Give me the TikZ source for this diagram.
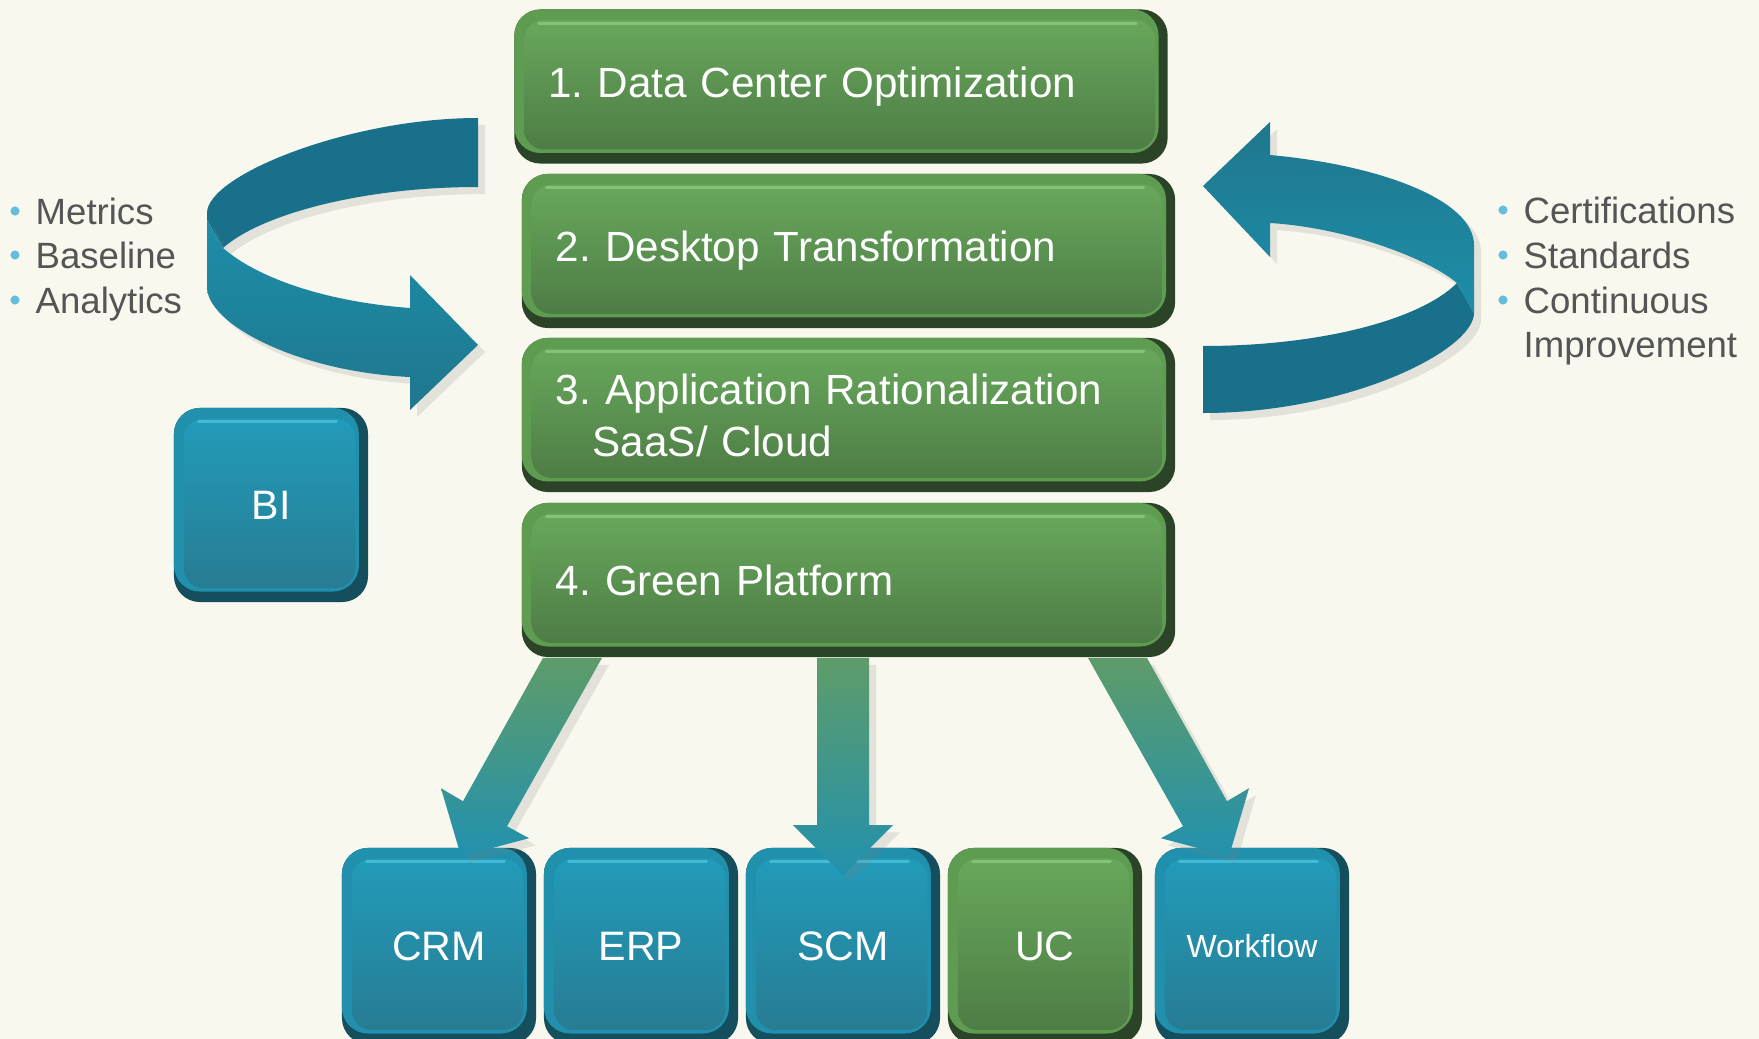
\documentclass[tikz,border=0pt]{standalone}
\usepackage{fontspec}
\setmainfont{Liberation Sans}
\usetikzlibrary{calc,shadows}
\frenchspacing

\definecolor{cream}{HTML}{F8F8EE}
\definecolor{listgray}{HTML}{555555}
\definecolor{bulletblue}{HTML}{62BEDA}
\definecolor{aquaedge}{HTML}{154E5D}
\definecolor{aquaside}{HTML}{2090AD}
\definecolor{aquatop}{HTML}{229BBA}
\definecolor{aquabot}{HTML}{277C93}
\definecolor{aquashine}{HTML}{5CCFEA}
\definecolor{leafedge}{HTML}{2B4427}
\definecolor{leafside}{HTML}{5E9C52}
\definecolor{leaftop}{HTML}{68A85B}
\definecolor{leafbot}{HTML}{4E7C46}
\definecolor{leafshine}{HTML}{95D888}
\definecolor{ribdark}{HTML}{18708A}
\definecolor{ribhi}{HTML}{1D8EA9}
\definecolor{riblo}{HTML}{1F778D}
\definecolor{spoketop}{HTML}{5E9C69}
\definecolor{spokebot}{HTML}{2291AE}

\tikzset{
  bevel/.style={fill=#1edge, draw=none, rounded corners=0.26cm, text=white,
    path picture={
      \fill[#1side, rounded corners=0.26cm] (path picture bounding box.north west)
        rectangle ([xshift=-2.6pt,yshift=3pt]path picture bounding box.south east);
      \shade[top color=#1top, bottom color=#1bot, rounded corners=0.2cm]
        ([xshift=2.8pt,yshift=-3pt]path picture bounding box.north west)
        rectangle ([xshift=-3.6pt,yshift=4pt]path picture bounding box.south east);
      \draw[#1shine, line width=0.9pt, line cap=round, opacity=0.6]
        ([xshift=7pt,yshift=-3.9pt]path picture bounding box.north west)
        -- ([xshift=-9pt,yshift=-3.9pt]path picture bounding box.north east);
    }},
  stage/.style={bevel=leaf, text width=5.85cm, inner xsep=0.34cm, minimum height=1.54cm,
    align=left, font=\fontsize{12pt}{14.8pt}\selectfont},
  tile/.style={minimum width=1.94cm, minimum height=1.96cm, font=\fontsize{11.7pt}{14pt}\selectfont},
  listtext/.style={anchor=base west, inner sep=0pt, text=listgray, font=\fontsize{10.4pt}{12pt}\selectfont},
  shadowed/.style={drop shadow={opacity=0.18,shadow xshift=2pt,shadow yshift=-2pt}},
  spoke/.style={top color=spoketop, bottom color=spokebot, shadowed}
}

\begin{document}
\begin{tikzpicture}[x=0.01cm,y=-0.01cm]
  \path[use as bounding box, fill=cream] (0,0) rectangle (1759,1039);

  % left loop
  \fill[ribdark, shadowed] (478,118) .. controls (350,118) and (207,175) .. (207,213) -- (207,220) -- (223,248)
    .. controls (260,215) and (360,187) .. (478,187) -- cycle;
  \shade[top color=ribhi, bottom color=riblo, shadowed] (207,220) -- (207,287)
    .. controls (207,325) and (300,372) .. (410,377) -- (410,410) -- (478,345) -- (410,275) -- (410,308)
    .. controls (330,302) and (260,280) .. (223,248) -- cycle;

  % right loop
  \fill[ribdark, shadowed] (1203,346) .. controls (1320,346) and (1420,320) .. (1457,283) -- (1474,313)
    .. controls (1474,350) and (1350,413) .. (1203,413) -- cycle;
  \shade[top color=riblo, bottom color=ribhi, shadowed] (1203,186) -- (1270,122) -- (1270,155)
    .. controls (1380,165) and (1474,200) .. (1474,245) -- (1474,313) -- (1457,283)
    .. controls (1430,260) and (1350,228) .. (1270,223) -- (1270,257) -- cycle;

  % stages
  \node[stage] (dco) at (841,86.5) {1. Data Center Optimization};
  \node[stage] (desk) at (848.5,251) {2. Desktop Transformation};
  \node[stage] (apps) at (848.5,415) {3. Application Rationalization\\\hspace*{0.37cm}SaaS/ Cloud};
  \node[stage] (gp) at (848.5,580) {4. Green Platform};

  % tiles
  \node[tile, bevel=aqua, minimum height=1.94cm] (bi) at (271,505) {BI};
  \node[tile, bevel=aqua] (crm) at (439,946) {CRM};
  \node[tile, bevel=aqua] (erp) at (641,946) {ERP};
  \node[tile, bevel=aqua] (scm) at (843,946) {SCM};
  \node[tile, bevel=leaf] (uc) at (1045,946) {UC};
  \node[tile, bevel=aqua, font=\fontsize{9.1pt}{11pt}\selectfont] (wf) at (1252,946) {Workflow};

  % arrows out of the platform
  \shade[spoke] ($(gp.south west)+(22,0)$) -- ($(gp.south west)+(81,0)$) -- ($(crm.north)+(68,-21)$)
    -- ($(crm.north)+(90,-9)$) -- ($(crm.north)+(22,9)$) -- ($(crm.north)+(2,-59)$) -- ($(crm.north)+(24,-46)$) -- cycle;
  \shade[spoke] ($(gp.south -| scm.north)+(-26,0)$) -- ($(gp.south -| scm.north)+(26,0)$) -- ($(scm.north)+(26,-22)$)
    -- ($(scm.north)+(50,-22)$) -- ($(scm.north)+(0,28)$) -- ($(scm.north)+(-50,-22)$) -- ($(scm.north)+(-26,-22)$) -- cycle;
  \shade[spoke] ($(gp.south east)+(-88,0)$) -- ($(gp.south east)+(-29,0)$) -- ($(wf.north)+(-25,-46)$)
    -- ($(wf.north)+(-3,-59)$) -- ($(wf.north)+(-23,9)$) -- ($(wf.north)+(-91,-9)$) -- ($(wf.north)+(-69,-21)$) -- cycle;

  % side lists
  \node[listtext] (metrics) at (35,224) {Metrics};
  \node[listtext] (baseline) at (35,268) {Baseline};
  \node[listtext] (analytics) at (35,313) {Analytics};
  \node[listtext] (certs) at (1523,223) {Certifications};
  \node[listtext] (stds) at (1523,268) {Standards};
  \node[listtext] (contin) at (1523,313) {Continuous};
  \node[listtext] (improv) at (1523,357) {Improvement};
  \foreach \n in {metrics,baseline,analytics,certs,stds,contin}
    \fill[bulletblue] ($(\n.base west)+(-20,-13)$) circle (1.3pt);
\end{tikzpicture}
\end{document}
